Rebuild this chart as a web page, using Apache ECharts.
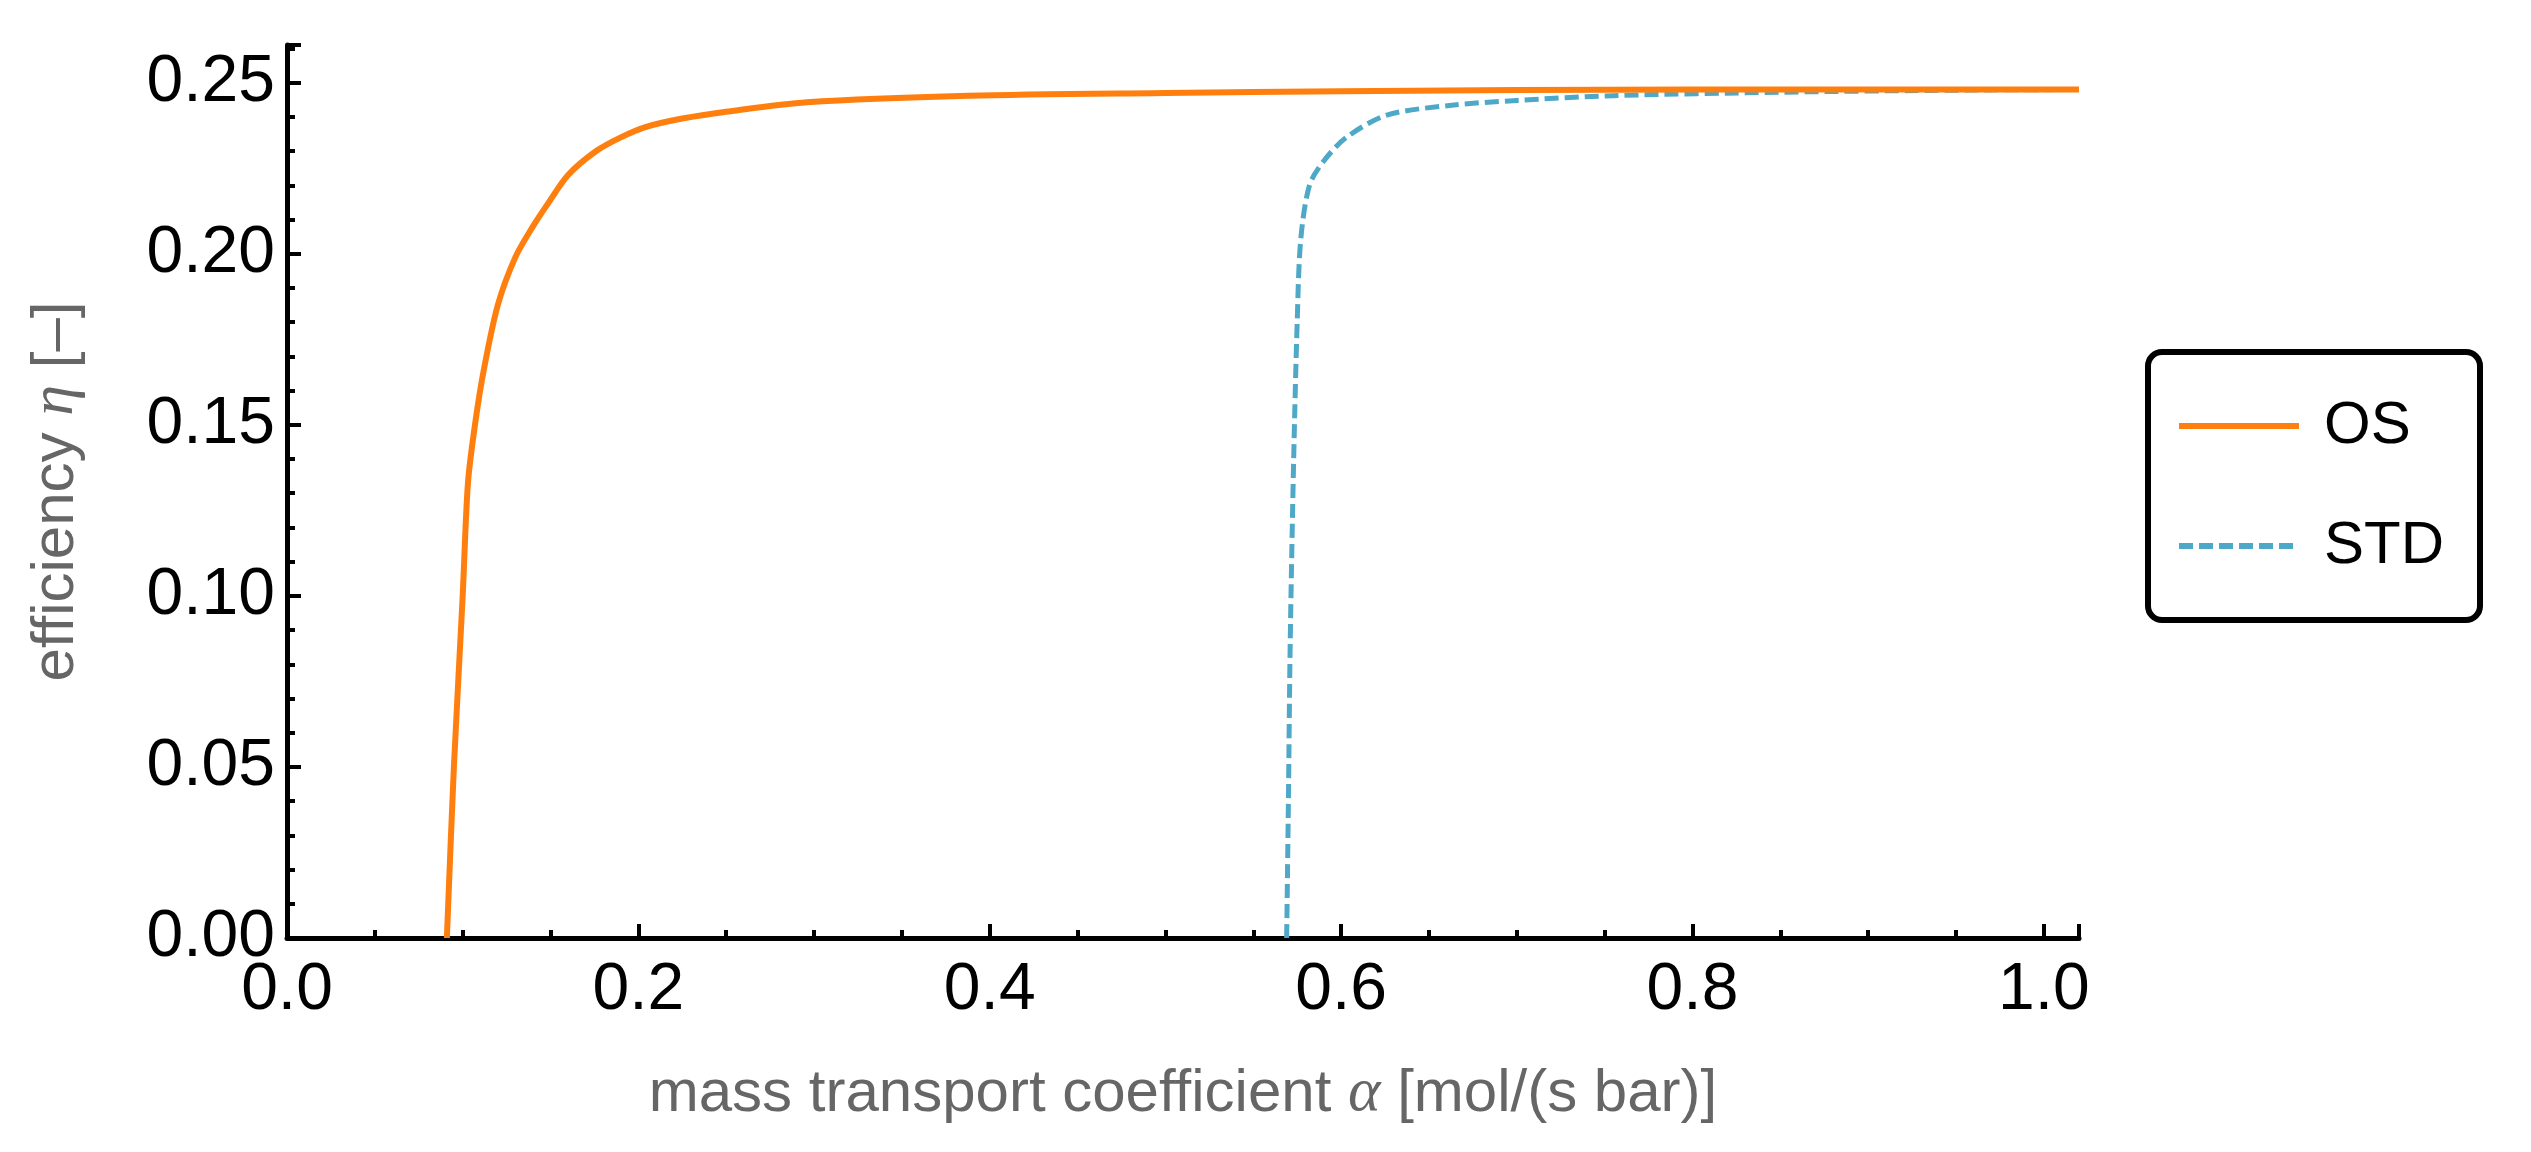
<!DOCTYPE html>
<html><head><meta charset="utf-8">
<script src="https://cdn.jsdelivr.net/npm/echarts@6/dist/echarts.min.js"></script>
<style>html,body{margin:0;padding:0;background:#fff}#c{width:2531px;height:1152px}</style>
</head><body><div id="c"></div>
<script>
const osX = [0.091,0.095,0.1,0.103,0.107,0.112,0.12,0.13,0.14,0.149,0.16,0.176,0.19,0.204,0.225,0.25,0.296,0.388,0.5,0.6,0.8,1.02];
const osY = [0.0,0.05,0.1,0.133,0.15,0.166,0.185,0.199,0.208,0.215,0.223,0.23,0.234,0.237,0.2395,0.2415,0.2443,0.2462,0.2470,0.2475,0.248,0.248];
const stdX = [0.569,0.570,0.571,0.573,0.575,0.577,0.582,0.59,0.603,0.626,0.663,0.7,0.755,0.85,0.95,1.02];
const stdY = [0.0,0.04,0.0855,0.14,0.18,0.204,0.22,0.227,0.234,0.2405,0.2434,0.2448,0.2462,0.2472,0.2478,0.248];
const seriesNames = ['OS','STD'];
const xTicks = [0,0.2,0.4,0.6,0.8,1.0];
const yTicks = [0,0.05,0.1,0.15,0.2,0.25];

const pair = (xs, ys) => xs.map((x, i) => [x, ys[i]]);
const chart = echarts.init(document.getElementById('c'));
const axisCommon = {
  axisLine:{show:true,onZero:false,lineStyle:{color:'#000',width:5}},
  axisTick:{show:true,inside:true,length:14,lineStyle:{color:'#000',width:4}},
  minorTick:{show:true,length:8,lineStyle:{color:'#000',width:4}},
  splitLine:{show:false},
  axisLabel:{color:'#000',fontSize:66,fontFamily:'Liberation Sans, Arial'},
  nameTextStyle:{color:'#666',fontSize:60,fontFamily:'Liberation Sans, Arial'},
  nameLocation:'middle'
};
const rich = {i:{fontStyle:'italic',fontSize:62,color:'#666',fontFamily:'Liberation Serif'}};
chart.setOption({
  animation:false,
  grid:{left:287,right:452,top:45,bottom:214,containLabel:false},
  xAxis:Object.assign({},axisCommon,{type:'value',min:0,max:1.02,interval:0.2,
    minorTick:Object.assign({},axisCommon.minorTick,{splitNumber:4}),
    axisLabel:Object.assign({},axisCommon.axisLabel,{margin:20,
      formatter:v=>xTicks.some(t=>Math.abs(t-v)<1e-9)?v.toFixed(1):''}),
    name:'mass transport coefficient {i|α} [mol/(s bar)]',nameGap:125,
    nameTextStyle:Object.assign({},axisCommon.nameTextStyle,{rich})}),
  yAxis:Object.assign({},axisCommon,{type:'value',min:0,max:0.261,interval:0.05,
    minorTick:Object.assign({},axisCommon.minorTick,{splitNumber:5}),
    axisLabel:Object.assign({},axisCommon.axisLabel,{margin:12,
      formatter:v=>yTicks.some(t=>Math.abs(t-v)<1e-9)?v.toFixed(2):''}),
    name:'efficiency {i|η} [–]',nameGap:200,
    nameTextStyle:Object.assign({},axisCommon.nameTextStyle,{rich})}),
  legend:{data:seriesNames,orient:'vertical',left:2148,top:352,
    padding:[44,36,44,28],itemGap:60,itemWidth:120,itemHeight:20,
    itemStyle:{opacity:0},lineStyle:{width:6},
    borderColor:'#000',borderWidth:6,borderRadius:14,
    textStyle:{fontSize:60,color:'#000',fontFamily:'Liberation Sans, Arial',padding:[0,0,0,20]}},
  series:[
    {name:'OS',type:'line',data:pair(osX,osY),showSymbol:false,smooth:0.3,
      lineStyle:{color:'#ff7f0e',width:6},itemStyle:{color:'#ff7f0e'},z:3},
    {name:'STD',type:'line',data:pair(stdX,stdY),showSymbol:false,smooth:0.3,
      lineStyle:{color:'#4ea8c8',width:5,type:[14,6]},itemStyle:{color:'#4ea8c8'},z:2}
  ]
});
</script></body></html>
